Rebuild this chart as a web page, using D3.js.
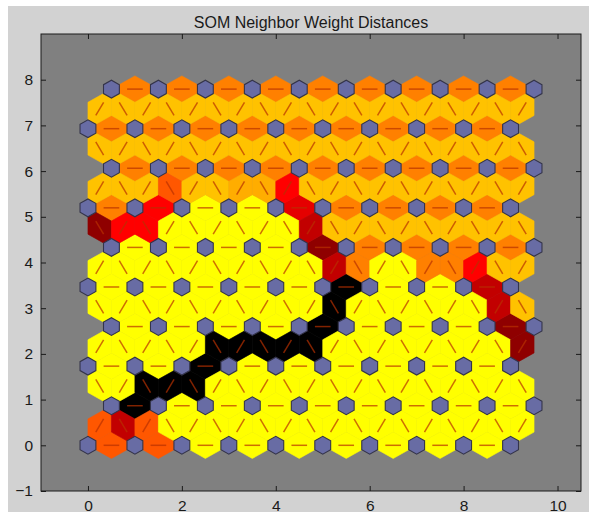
<!DOCTYPE html>
<html>
<head>
<meta charset="utf-8">
<script src="https://cdn.jsdelivr.net/npm/d3@7"></script>
<style>
  body { margin: 0; background: #ffffff; }
  text { font-family: "Liberation Sans", Arial, sans-serif; }
</style>
</head>
<body>
<svg id="chart" width="597" height="520"></svg>
<script>
// distance levels (0 = close / yellow ... 1 = far / black)
var Y = 0, LO = 0.12, O = 0.25, RO = 0.33, R = 0.5, DR = 0.62, DDR = 0.72, K = 1;

// horizontal links, one list per neuron row, bottom row first (9 links per row)
var rowLinks = [
    [RO, RO, Y, Y, Y, Y, Y, Y, Y],
    [K, Y, Y, Y, Y, Y, Y, Y, Y],
    [Y, Y, K, Y, Y, Y, Y, Y, Y],
    [Y, Y, Y, Y, K, Y, Y, Y, DDR],
    [Y, Y, Y, Y, Y, K, Y, Y, DR],
    [Y, Y, Y, Y, DDR, O, O, O, O],
    [O, R, Y, Y, 0.55, O, O, O, O],
    [O, O, O, O, O, O, O, O, O],
    [O, O, O, O, O, O, O, O, O],
    [O, O, O, O, O, O, O, O, O]
];

// diagonal links between row j and row j+1, left to right (19 per gap)
var gapLinks = [
    [RO, DR, RO, Y, Y, Y, Y, Y, Y, Y, Y, Y, Y, Y, Y, Y, Y, Y, Y],
    [Y, Y, K, K, K, Y, Y, Y, Y, Y, Y, Y, Y, Y, Y, Y, Y, Y, Y],
    [Y, Y, Y, Y, Y, K, K, K, K, K, Y, Y, Y, Y, Y, Y, Y, Y, DDR],
    [Y, Y, Y, Y, Y, Y, Y, Y, Y, Y, K, Y, Y, Y, Y, Y, Y, DR, LO],
    [Y, Y, Y, Y, Y, Y, Y, Y, Y, Y, DR, O, Y, Y, O, O, R, LO, LO],
    [DDR, R, R, Y, Y, Y, Y, Y, Y, DR, LO, LO, LO, LO, LO, LO, LO, LO, LO],
    [LO, LO, LO, RO, LO, LO, 0.16, 0.16, R, LO, LO, LO, LO, LO, LO, LO, LO, LO, LO],
    [LO, LO, LO, LO, LO, LO, LO, LO, LO, LO, LO, LO, LO, LO, LO, LO, LO, LO, LO],
    [LO, LO, LO, LO, LO, LO, LO, LO, LO, LO, LO, LO, LO, LO, LO, LO, LO, LO, LO]
];

var xTicks = [0, 2, 4, 6, 8, 10];
var yTicks = [-1, 0, 1, 2, 3, 4, 5, 6, 7, 8];
var titleText = "SOM Neighbor Weight Distances";

var svg = d3.select("#chart");
var rowH = Math.sqrt(3) / 2;

var x = d3.scaleLinear().domain([-1, 10.5]).range([41, 581]);
var y = d3.scaleLinear().domain([-1, 9]).range([491, 34]);
var color = d3.scaleLinear().domain([0, 0.5, 1]).range(["#ffff00", "#ff0000", "#000000"]);

function neuron(i, j) {
    return [i + 0.5 * (j % 2), j * rowH];
}

// build link list from the arrays
var links = [];
rowLinks.forEach(function (vals, j) {
    vals.forEach(function (v, i) {
        links.push({ a: neuron(i, j), b: neuron(i + 1, j), v: v });
    });
});
gapLinks.forEach(function (vals, j) {
    vals.forEach(function (v, k) {
        var mx = 0.25 + 0.5 * k, a, b;
        var lo = Math.floor(mx), hi = Math.ceil(mx);
        if (j % 2 === 0) {
            // lower row at integers, upper row at halves
            if (k % 2 === 0) { a = [lo, j * rowH]; b = [lo + 0.5, (j + 1) * rowH]; }
            else { a = [hi, j * rowH]; b = [hi - 0.5, (j + 1) * rowH]; }
        } else {
            if (k % 2 === 0) { a = [lo + 0.5, j * rowH]; b = [lo, (j + 1) * rowH]; }
            else { a = [lo + 0.5, j * rowH]; b = [hi, (j + 1) * rowH]; }
        }
        links.push({ a: a, b: b, v: v });
    });
});

var neurons = [];
for (var j = 0; j < 10; j++) for (var i = 0; i < 10; i++) neurons.push(neuron(i, j));

// figure and axes backgrounds
svg.append("rect").attr("x", 8).attr("y", 6).attr("width", 581).attr("height", 506).attr("fill", "#d2d2d2");
svg.append("rect").attr("x", x(-1)).attr("y", y(9))
    .attr("width", x(10.5) - x(-1)).attr("height", y(-1) - y(9)).attr("fill", "#808080");

svg.append("text").attr("x", (x(-1) + x(10.5)) / 2).attr("y", 28)
    .attr("text-anchor", "middle").attr("font-size", 16).attr("fill", "#1a1a1a")
    .text(titleText);

var h = 1 / (2 * Math.sqrt(3));
function rhomb(d) {
    var mx = (d.a[0] + d.b[0]) / 2, my = (d.a[1] + d.b[1]) / 2;
    var dx = d.b[0] - d.a[0], dy = d.b[1] - d.a[1];
    var nx = -dy * h, ny = dx * h;
    return [d.a, [mx + nx, my + ny], d.b, [mx - nx, my - ny]]
        .map(function (p) { return x(p[0]) + "," + y(p[1]); }).join(" ");
}

svg.append("g").selectAll("polygon").data(links).enter().append("polygon")
    .attr("points", rhomb)
    .attr("fill", function (d) { return color(d.v); })
    .attr("stroke", function (d) { return color(d.v); })
    .attr("stroke-width", 0.6);

svg.append("g").selectAll("line").data(links).enter().append("line")
    .attr("x1", function (d) { return x(d.a[0] + (d.b[0] - d.a[0]) / 3); })
    .attr("y1", function (d) { return y(d.a[1] + (d.b[1] - d.a[1]) / 3); })
    .attr("x2", function (d) { return x(d.a[0] + 2 * (d.b[0] - d.a[0]) / 3); })
    .attr("y2", function (d) { return y(d.a[1] + 2 * (d.b[1] - d.a[1]) / 3); })
    .attr("stroke", "#b83000").attr("stroke-opacity", 0.7).attr("stroke-width", 1.5);

var hr = 0.195;
svg.append("g").selectAll("polygon").data(neurons).enter().append("polygon")
    .attr("points", function (p) {
        return d3.range(6).map(function (k) {
            var t = Math.PI / 6 + k * Math.PI / 3;
            return x(p[0] + hr * Math.cos(t)) + "," + y(p[1] + hr * Math.sin(t));
        }).join(" ");
    })
    .attr("fill", "#686ca4").attr("stroke", "#34344a").attr("stroke-width", 1.1);

// axes
function styleAxis(g) {
    g.selectAll("path.domain").remove();
    g.selectAll("line").attr("stroke", "#1a1a1a");
    g.selectAll("text").attr("font-size", 15.5).attr("fill", "#1a1a1a")
        .attr("font-family", "Liberation Sans, Arial, sans-serif");
}
svg.append("g").attr("transform", "translate(0," + y(-1) + ")")
    .call(d3.axisBottom(x).tickValues(xTicks).tickSizeInner(-5).tickSizeOuter(0).tickPadding(9))
    .call(styleAxis);
svg.append("g").attr("transform", "translate(0," + y(9) + ")")
    .call(d3.axisTop(x).tickValues(xTicks).tickSizeInner(-5).tickSizeOuter(0).tickFormat(""))
    .call(styleAxis);
svg.append("g").attr("transform", "translate(" + x(-1) + ",0)")
    .call(d3.axisLeft(y).tickValues(yTicks).tickSizeInner(-5).tickSizeOuter(0).tickPadding(8))
    .call(styleAxis);
svg.append("g").attr("transform", "translate(" + x(10.5) + ",0)")
    .call(d3.axisRight(y).tickValues(yTicks).tickSizeInner(-5).tickSizeOuter(0).tickFormat(""))
    .call(styleAxis);

svg.append("rect").attr("x", x(-1)).attr("y", y(9))
    .attr("width", x(10.5) - x(-1)).attr("height", y(-1) - y(9))
    .attr("fill", "none").attr("stroke", "#1a1a1a").attr("stroke-width", 1);
</script>
</body>
</html>
